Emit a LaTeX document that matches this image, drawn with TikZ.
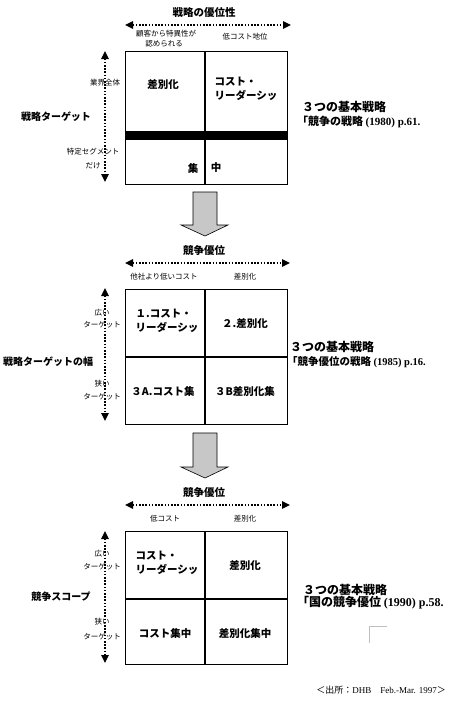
\documentclass[tikz,border=0pt]{standalone}
\usepackage{fontspec}
\setmainfont{Liberation Serif}
\newfontfamily\jp{Noto Sans CJK JP}
\usetikzlibrary{arrows.meta}
\begin{document}
\begin{tikzpicture}[x=1pt,y=-1pt,
  cell/.style={font=\jp\bfseries\fontsize{10.5}{14}\selectfont, align=left, inner sep=0pt},
  small/.style={font=\jp\fontsize{7.5}{9}\selectfont, inner sep=0pt},
  ttl/.style={font=\jp\bfseries\fontsize{10.5}{12}\selectfont, inner sep=0pt},
  side/.style={font=\jp\bfseries\fontsize{10}{12}\selectfont, inner sep=0pt},
  ref/.style={font=\jp\bfseries\fontsize{11}{13}\selectfont, inner sep=0pt, anchor=west},
  axisarrow/.style={line width=1.6pt, dash pattern=on 1.6pt off 1.6pt,
     {Triangle[length=8pt,width=7.5pt]}-{Triangle[length=8pt,width=7.5pt]}},
  frame/.style={line width=0.9pt},
  divider/.style={line width=1.6pt},
  bigarrow/.style={draw=black, line width=0.6pt, fill=black!22}
]
\useasboundingbox (0,0) rectangle (448,702);

% ---------- Section 1 ----------
\node[ttl] (t1) at (204,13) {戦略の優位性};
\coordinate (hl1) at (125,25);
\coordinate (hr1) at (291,25);
\draw[axisarrow] (hl1) -- (hr1);
\node[small] (a1) at (166,34) {顧客から特異性が};
\node[small] (a2) at (164,44) {認められる};
\node[small] (a3) at (245,37) {低コスト地位};

\draw[frame] (125,51) rectangle (287,184);
\fill (125,131) rectangle (287,140);
\draw[divider] (205,51) -- (205,184);
\node[cell] (c11) at (163,85) {差別化};
\node[cell] (c12) at (246,89) {コスト・\\リーダーシッ};
\node[cell] (c13) at (193,168) {集};
\node[cell] (c14) at (216,168) {中};

\coordinate (vt1) at (105,51);
\coordinate (vb1) at (105,182);
\draw[axisarrow] (vt1) -- (vb1);
\node[small] (l11) at (105,83) {業界全体};
\node[small] (l12) at (93,152) {特定セグメント};
\node[small] (l13) at (93,166) {だけ};
\node[side] (s1) at (56,117) {戦略ターゲット};
\node[ref, font=\jp\bfseries\fontsize{12}{14}\selectfont] (r11) at (302,107) {３つの基本戦略};
\node[ref] (r12) at (297,122) {「競争の戦略 {\rmfamily\bfseries (1980) p.61.}};

% ---------- Arrow 1 ----------
\draw[bigarrow] (193,192) -- (217,192) -- (217,225) -- (228,225) -- (205,236) -- (181,225) -- (193,225) -- cycle;

% ---------- Section 2 ----------
\node[ttl] (t2) at (204,251) {競争優位};
\coordinate (hl2) at (125,263);
\coordinate (hr2) at (290,263);
\draw[axisarrow] (hl2) -- (hr2);
\node[small] (b1) at (164,277) {他社より低いコスト};
\node[small] (b2) at (245,277) {差別化};

\draw[frame] (125,289) rectangle (287,424);
\draw[divider] (205,289) -- (205,424);
\draw[divider] (125,357) -- (287,357);
\node[cell] (c21) at (167,321) {１.コスト・\\リーダーシッ};
\node[cell] (c22) at (245,323) {２.差別化};
\node[cell] (c23) at (163,391) {３A.コスト集};
\node[cell] (c24) at (245,391) {３B差別化集};

\coordinate (vt2) at (105,288);
\coordinate (vb2) at (105,421);
\draw[axisarrow] (vt2) -- (vb2);
\node[small] (l21) at (102,313) {広い};
\node[small] (l22) at (102,325) {ターゲット};
\node[small] (l23) at (102,384) {狭い};
\node[small] (l24) at (102,397) {ターゲット};
\node[side, anchor=west] (s2) at (3,362) {戦略ターゲットの幅};
\node[ref, font=\jp\bfseries\fontsize{12}{14}\selectfont] (r21) at (290,347) {３つの基本戦略};
\node[ref, font=\jp\bfseries\fontsize{10.5}{13}\selectfont] (r22) at (287,362) {「競争優位の戦略 {\rmfamily\bfseries (1985) p.16.}};

% ---------- Arrow 2 ----------
\draw[bigarrow] (193,433) -- (217,433) -- (217,467) -- (228,467) -- (205,478) -- (181,467) -- (193,467) -- cycle;

% ---------- Section 3 ----------
\node[ttl] (t3) at (204,493) {競争優位};
\coordinate (hl3) at (125,505);
\coordinate (hr3) at (290,505);
\draw[axisarrow] (hl3) -- (hr3);
\node[small] (d1) at (165,519) {低コスト};
\node[small] (d2) at (245,519) {差別化};

\draw[frame] (125,531) rectangle (287,664);
\draw[divider] (205,531) -- (205,664);
\draw[divider] (125,599) -- (287,599);
\node[cell] (c31) at (167,563) {コスト・\\リーダーシッ};
\node[cell] (c32) at (245,565) {差別化};
\node[cell] (c33) at (165,633) {コスト集中};
\node[cell] (c34) at (245,633) {差別化集中};

\coordinate (vt3) at (105,531);
\coordinate (vb3) at (105,663);
\draw[axisarrow] (vt3) -- (vb3);
\node[small] (l31) at (102,554) {広い};
\node[small] (l32) at (102,567) {ターゲット};
\node[small] (l33) at (102,622) {狭い};
\node[small] (l34) at (102,637) {ターゲット};
\node[side] (s3) at (61,597) {競争スコープ};
\node[ref, font=\jp\bfseries\fontsize{12}{14}\selectfont] (r31) at (303,590) {３つの基本戦略};
\node[ref, font=\jp\bfseries\fontsize{12}{14}\selectfont] (r32) at (297,603) {「国の競争優位 {\rmfamily\bfseries (1990) p.58.}};

% corner mark
\coordinate (m1) at (387,626);
\coordinate (m2) at (369,626);
\coordinate (m3) at (369,643);
\draw[black!25, line width=0.8pt] (m1) -- (m2) -- (m3);

% footer
\node[inner sep=0pt, anchor=east, font=\fontsize{9}{11}\selectfont] (src) at (446,690) {{\jp ＜出所：}DHB\quad Feb.-Mar. 1997{\jp ＞}};
\end{tikzpicture}
\end{document}
